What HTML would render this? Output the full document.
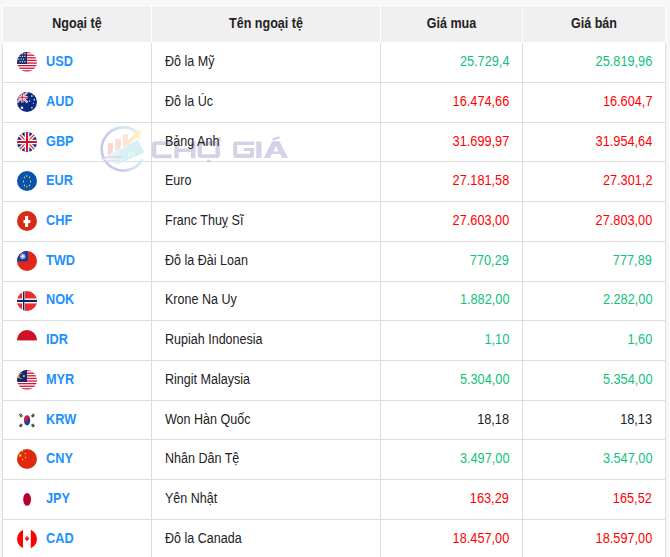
<!DOCTYPE html>
<html><head><meta charset="utf-8"><title>Tỷ giá ngoại tệ</title>
<style>
html,body{margin:0;padding:0}
body{width:670px;height:557px;overflow:hidden;background:#f7f7f7;position:relative;font-family:"Liberation Sans",sans-serif;font-size:13px;color:#222222}
.tb{position:absolute;left:2px;top:5px;width:664px;height:560px;background:#fff}
.hc{position:absolute;top:6px;height:36px;background:#f0f0f0}
.ht{position:absolute;top:16px;line-height:15px;font-size:14px;font-weight:bold;color:#222;text-align:center;white-space:nowrap;transform:scaleX(0.895);transform-origin:center}
.v{position:absolute;top:43px;width:1px;height:520px;background:#dddddd}
.h{position:absolute;left:2px;width:664px;height:1px;background:#dddddd}
.t{position:absolute;line-height:15px;font-size:14px;white-space:nowrap;transform:scaleX(0.895);transform-origin:left center}
.cd{font-weight:bold;color:#1e90ff;transform:scaleX(0.91)}
.r3{text-align:right;right:161px;transform-origin:right center;transform:scaleX(0.91)}
.r4{text-align:right;right:18px;transform-origin:right center;transform:scaleX(0.91)}
.g{color:#12c27a}.r{color:#ff0000}.k{color:#222222}
.f{position:absolute;left:17px;width:20px;height:20px}
.f svg{display:block}
.wm{position:absolute}
</style></head><body>
<svg width="0" height="0" style="position:absolute"><defs><clipPath id="c"><circle cx="10" cy="10" r="10"/></clipPath></defs></svg>
<div class="tb"></div>

<div class="hc" style="left:3px;width:148px"></div>
<div class="ht" style="left:3px;width:148px">Ngoại tệ</div>
<div class="hc" style="left:152px;width:228px"></div>
<div class="ht" style="left:152px;width:228px">Tên ngoại tệ</div>
<div class="hc" style="left:381px;width:141px"></div>
<div class="ht" style="left:381px;width:141px">Giá mua</div>
<div class="hc" style="left:523px;width:142px"></div>
<div class="ht" style="left:523px;width:142px">Giá bán</div>
<div class="v" style="left:2px"></div>
<div class="v" style="left:151px"></div>
<div class="v" style="left:380px"></div>
<div class="v" style="left:522px"></div>
<div class="v" style="left:665px"></div>
<div class="h" style="top:82px"></div>
<div class="h" style="top:122px"></div>
<div class="h" style="top:161px"></div>
<div class="h" style="top:201px"></div>
<div class="h" style="top:241px"></div>
<div class="h" style="top:281px"></div>
<div class="h" style="top:320px"></div>
<div class="h" style="top:360px"></div>
<div class="h" style="top:400px"></div>
<div class="h" style="top:439px"></div>
<div class="h" style="top:479px"></div>
<div class="h" style="top:519px"></div>
<svg class="wm" style="position:absolute;left:95px;top:120px" width="200" height="60" viewBox="95 120 200 60">
<defs>
<linearGradient id="rg" gradientUnits="userSpaceOnUse" x1="101" y1="155" x2="140" y2="140"><stop offset="0" stop-color="#c8c3e8"/><stop offset="0.35" stop-color="#cdcbeb"/><stop offset="0.75" stop-color="#cfe9f3"/><stop offset="1" stop-color="#d4eff5"/></linearGradient>
<linearGradient id="ag" x1="0" y1="1" x2="1" y2="0"><stop offset="0" stop-color="#fbd6cf"/><stop offset="1" stop-color="#ffefc4"/></linearGradient>
</defs>
<linearGradient id="ng" x1="0" y1="0" x2="1" y2="0"><stop offset="0" stop-color="#f4f8fb"/><stop offset="0.5" stop-color="#d9f1f6"/><stop offset="1" stop-color="#d3eef4"/></linearGradient>
<linearGradient id="rg2" x1="0" y1="0" x2="1" y2="0"><stop offset="0" stop-color="#c8c3e8"/><stop offset="0.6" stop-color="#d6e4f2"/><stop offset="1" stop-color="#e2f4f8"/></linearGradient>
<path d="M142.37,159.14 A21.6,21.6 0 1 1 136.60,131.98" fill="none" stroke="url(#rg)" stroke-width="2.6"/>
<path d="M107.80,143.10 H112.80 V152.82 L107.80,155.60 Z" fill="#f9d5d5"/><path d="M115.30,138.80 H120.90 V148.32 L115.30,151.43 Z" fill="#fbddd2"/><path d="M123.00,134.20 H128.00 V144.37 L123.00,147.15 Z" fill="#fde4d2"/>
<path d="M126.5,144.2 L137.2,134.2" fill="none" stroke="#fde8c9" stroke-width="3.6"/>
<path d="M132.1,131.3 L141.8,130.2 L139.4,140.2 Z" fill="#ffefc6"/>
<path d="M103,158.9 L137.5,139.8 L144.4,152.6 L118,164.5 Z" fill="url(#ng)"/>
<path d="M100.8,158.2 Q110,156 122,157" fill="none" stroke="#d6d3ee" stroke-width="1.4"/>
<path d="M101.8,162 Q111,160.2 120,161" fill="none" stroke="#dbd8f0" stroke-width="1.2"/>
<circle cx="131.3" cy="154.8" r="2.9" fill="#f0f9f4"/>
<path d="M132.3,153.3 Q130.2,153 130.4,154.6 Q132.4,155 132.2,156.4 Q130.6,156.7 130.2,156" fill="none" stroke="#cde4bc" stroke-width="0.8"/>
<g fill="#d5d2e8">
<path d="M171.7,141.3 H155.3 Q152,141.3 152,144.6 V154.9 Q152,158.2 155.3,158.2 H171.7 V154.5 H156.3 V145 H171.7 Z"/>
<path d="M174.3,141.3 H178.8 V148.5 H191 V141.3 H195.5 V158.2 H191 V152 H178.8 V158.2 H174.3 Z"/>
<path fill-rule="evenodd" d="M201,141.3 H216.6 Q220.1,141.3 220.1,144.8 V154.6 Q220.1,158.1 216.6,158.1 H201 Q197.5,158.1 197.5,154.6 V144.8 Q197.5,141.3 201,141.3 Z M202.1,145.1 V154.2 H215.5 V145.1 Z"/>
<path d="M217.4,141.4 L218.2,137.3 L220.8,137.3 L220.4,141.4 Z"/>
<rect x="206.9" y="159.8" width="4" height="2.6" rx="0.8"/>
<path d="M254.1,141.6 H236.4 Q233.1,141.6 233.1,144.9 V154.7 Q233.1,158 236.4,158 H250.8 Q254.1,158 254.1,154.7 V148 H243.8 V150.9 H250 V153.8 H237.2 V144.9 H254.1 Z"/>
<rect x="256.2" y="141.5" width="5.3" height="16.5"/>
<path fill-rule="evenodd" d="M263.6,158 L272.3,141.3 L279.5,141.3 L288.1,158 L282.1,158 L280.1,154.1 L271.9,154.1 L269.9,158 Z M273.3,151.4 L275.9,146 L278.5,151.4 Z"/>
</g>
<path d="M273.3,139.4 L278.8,137.4" stroke="#c9cbe6" stroke-width="1.9" stroke-linecap="round"/>
</svg>
<div class="f" style="top:52px"><svg width="20" height="20" viewBox="0 0 20 20"><g clip-path="url(#c)"><rect width="20" height="20" fill="#fff"/><rect x="0" y="-0.10" width="20" height="1.31" fill="#cc1338"/><rect x="0" y="2.52" width="20" height="1.31" fill="#cc1338"/><rect x="0" y="5.14" width="20" height="1.31" fill="#cc1338"/><rect x="0" y="7.76" width="20" height="1.31" fill="#cc1338"/><rect x="0" y="10.38" width="20" height="1.31" fill="#cc1338"/><rect x="0" y="13.00" width="20" height="1.31" fill="#cc1338"/><rect x="0" y="15.62" width="20" height="1.31" fill="#cc1338"/><rect x="0" y="18.24" width="20" height="1.31" fill="#cc1338"/><rect width="10" height="12" fill="#1a2f6e"/><rect x="4.95" y="1.15" width="1.1" height="1.1" fill="#fff"/><rect x="7.35" y="1.15" width="1.1" height="1.1" fill="#fff"/><rect x="2.55" y="3.80" width="1.1" height="1.1" fill="#fff"/><rect x="4.95" y="3.80" width="1.1" height="1.1" fill="#fff"/><rect x="7.35" y="3.80" width="1.1" height="1.1" fill="#fff"/><rect x="1.15" y="6.55" width="1.1" height="1.1" fill="#fff"/><rect x="3.60" y="6.55" width="1.1" height="1.1" fill="#fff"/><rect x="6.05" y="6.55" width="1.1" height="1.1" fill="#fff"/><rect x="2.55" y="9.15" width="1.1" height="1.1" fill="#fff"/><rect x="4.95" y="9.15" width="1.1" height="1.1" fill="#fff"/><rect x="7.35" y="9.15" width="1.1" height="1.1" fill="#fff"/></g></svg></div>
<div class="t cd" style="left:46.3px;top:54px">USD</div>
<div class="t" style="left:165px;top:54px">Đô la Mỹ</div>
<div class="t r3 g" style="top:54px">25.729,4</div>
<div class="t r4 g" style="top:54px">25.819,96</div>
<div class="f" style="top:92px"><svg width="20" height="20" viewBox="0 0 20 20"><g clip-path="url(#c)"><rect width="20" height="20" fill="#0d2a80"/><g transform="translate(0,0) scale(0.525,0.525)"><rect width="20" height="20" fill="#0a2a84"/><path d="M0,0 L20,20 M20,0 L0,20" stroke="#fff" stroke-width="4"/><path d="M0,0 L20,20 M20,0 L0,20" stroke="#e8322b" stroke-width="1.4"/><path d="M10,0 V20 M0,10 H20" stroke="#fff" stroke-width="4.6"/><path d="M10,0 V20 M0,10 H20" stroke="#d4102e" stroke-width="2"/></g><circle cx="14.9" cy="4.1" r="0.8" fill="#fff"/><circle cx="17.3" cy="7.8" r="0.8" fill="#fff"/><circle cx="12.5" cy="8.9" r="0.7" fill="#fff"/><circle cx="16.5" cy="11.3" r="0.5" fill="#fff"/><circle cx="14.9" cy="15.7" r="0.8" fill="#fff"/><circle cx="5" cy="15.7" r="1.3" fill="#fff"/></g></svg></div>
<div class="t cd" style="left:46.3px;top:94px">AUD</div>
<div class="t" style="left:165px;top:94px">Đô la Úc</div>
<div class="t r3 r" style="top:94px">16.474,66</div>
<div class="t r4 r" style="top:94px">16.604,7</div>
<div class="f" style="top:132px"><svg width="20" height="20" viewBox="0 0 20 20"><g clip-path="url(#c)"><g transform="translate(0,0) scale(1,1)"><rect width="20" height="20" fill="#0a2a84"/><path d="M0,0 L20,20 M20,0 L0,20" stroke="#fff" stroke-width="4"/><path d="M0,0 L20,20 M20,0 L0,20" stroke="#e8322b" stroke-width="1.4"/><path d="M10,0 V20 M0,10 H20" stroke="#fff" stroke-width="4.6"/><path d="M10,0 V20 M0,10 H20" stroke="#d4102e" stroke-width="2"/></g></g></svg></div>
<div class="t cd" style="left:46.3px;top:134px">GBP</div>
<div class="t" style="left:165px;top:134px">Bảng Anh</div>
<div class="t r3 r" style="top:134px">31.699,97</div>
<div class="t r4 r" style="top:134px">31.954,64</div>
<div class="f" style="top:171px"><svg width="20" height="20" viewBox="0 0 20 20"><g clip-path="url(#c)"><rect width="20" height="20" fill="#0a52b0"/><ellipse cx="9.8" cy="5" rx="0.6" ry="0.9" fill="#ffe01a"/><ellipse cx="7.4" cy="6.3" rx="0.6" ry="0.9" fill="#ffe01a"/><ellipse cx="12.5" cy="6.3" rx="0.6" ry="0.9" fill="#ffe01a"/><ellipse cx="6.5" cy="10.5" rx="0.6" ry="0.9" fill="#ffe01a"/><ellipse cx="13.5" cy="10.5" rx="0.6" ry="0.9" fill="#ffe01a"/><ellipse cx="7.4" cy="14.4" rx="0.6" ry="0.9" fill="#ffe01a"/><ellipse cx="12.5" cy="14.4" rx="0.6" ry="0.9" fill="#ffe01a"/><ellipse cx="9.8" cy="15.6" rx="0.6" ry="0.9" fill="#ffe01a"/></g></svg></div>
<div class="t cd" style="left:46.3px;top:173px">EUR</div>
<div class="t" style="left:165px;top:173px">Euro</div>
<div class="t r3 r" style="top:173px">27.181,58</div>
<div class="t r4 r" style="top:173px">27.301,2</div>
<div class="f" style="top:211px"><svg width="20" height="20" viewBox="0 0 20 20"><g clip-path="url(#c)"><rect width="20" height="20" fill="#d82a17"/><rect x="8.1" y="5" width="3" height="11" fill="#fff"/><rect x="6.5" y="9.1" width="6.8" height="3" fill="#fff"/></g></svg></div>
<div class="t cd" style="left:46.3px;top:213px">CHF</div>
<div class="t" style="left:165px;top:213px">Franc Thuỵ Sĩ</div>
<div class="t r3 r" style="top:213px">27.603,00</div>
<div class="t r4 r" style="top:213px">27.803,00</div>
<div class="f" style="top:251px"><svg width="20" height="20" viewBox="0 0 20 20"><g clip-path="url(#c)"><rect width="20" height="20" fill="#e3261a"/><rect width="11" height="10.4" fill="#1b3a9c"/><polygon points="5.80,2.10 6.32,3.37 7.40,2.53 7.21,3.89 8.57,3.70 7.73,4.78 9.00,5.30 7.73,5.82 8.57,6.90 7.21,6.71 7.40,8.07 6.32,7.23 5.80,8.50 5.28,7.23 4.20,8.07 4.39,6.71 3.03,6.90 3.87,5.82 2.60,5.30 3.87,4.78 3.03,3.70 4.39,3.89 4.20,2.53 5.28,3.37" fill="#fff"/><circle cx="5.8" cy="5.3" r="1.75" fill="#1b3a9c"/><circle cx="5.8" cy="5.3" r="1.4" fill="#fff"/></g></svg></div>
<div class="t cd" style="left:46.3px;top:253px">TWD</div>
<div class="t" style="left:165px;top:253px">Đô la Đài Loan</div>
<div class="t r3 g" style="top:253px">770,29</div>
<div class="t r4 g" style="top:253px">777,89</div>
<div class="f" style="top:291px"><svg width="20" height="20" viewBox="0 0 20 20"><g clip-path="url(#c)"><rect width="20" height="20" fill="#ef2b2d"/><rect x="5" width="2.9" height="20" fill="#fff"/><rect y="7.5" width="20" height="4.9" fill="#fff"/><rect x="6" width="1.4" height="20" fill="#002868"/><rect y="8.9" width="20" height="2.1" fill="#002868"/></g></svg></div>
<div class="t cd" style="left:46.3px;top:292px">NOK</div>
<div class="t" style="left:165px;top:292px">Krone Na Uy</div>
<div class="t r3 g" style="top:292px">1.882,00</div>
<div class="t r4 g" style="top:292px">2.282,00</div>
<div class="f" style="top:330px"><svg width="20" height="20" viewBox="0 0 20 20"><g clip-path="url(#c)"><rect width="20" height="20" fill="#fff"/><rect width="20" height="10.4" fill="#ce1126"/></g></svg></div>
<div class="t cd" style="left:46.3px;top:332px">IDR</div>
<div class="t" style="left:165px;top:332px">Rupiah Indonesia</div>
<div class="t r3 g" style="top:332px">1,10</div>
<div class="t r4 g" style="top:332px">1,60</div>
<div class="f" style="top:370px"><svg width="20" height="20" viewBox="0 0 20 20"><g clip-path="url(#c)"><rect width="20" height="20" fill="#fff"/><rect x="0" y="-0.10" width="20" height="1.31" fill="#cc1338"/><rect x="0" y="2.52" width="20" height="1.31" fill="#cc1338"/><rect x="0" y="5.14" width="20" height="1.31" fill="#cc1338"/><rect x="0" y="7.76" width="20" height="1.31" fill="#cc1338"/><rect x="0" y="10.38" width="20" height="1.31" fill="#cc1338"/><rect x="0" y="13.00" width="20" height="1.31" fill="#cc1338"/><rect x="0" y="15.62" width="20" height="1.31" fill="#cc1338"/><rect x="0" y="18.24" width="20" height="1.31" fill="#cc1338"/><rect width="10" height="12" fill="#0f2a78"/><circle cx="3.6" cy="6" r="2.8" fill="#f2c318"/><circle cx="4.5" cy="6" r="2.3" fill="#0f2a78"/><circle cx="6.9" cy="6" r="1.1" fill="#f2c318"/></g></svg></div>
<div class="t cd" style="left:46.3px;top:372px">MYR</div>
<div class="t" style="left:165px;top:372px">Ringit Malaysia</div>
<div class="t r3 g" style="top:372px">5.304,00</div>
<div class="t r4 g" style="top:372px">5.354,00</div>
<div class="f" style="top:410px"><svg width="20" height="20" viewBox="0 0 20 20"><g clip-path="url(#c)"><rect width="20" height="20" fill="#fff"/><ellipse cx="10.1" cy="10.4" rx="3.1" ry="5" fill="#1a3f9a"/><path d="M7,10.4 A3.1,5 0 0 1 13.2,10.4 A1.55,1.6 0 0 0 10.1,10.4 A1.55,1.6 0 0 1 7,10.4Z" fill="#cd1f3a"/><g transform="translate(3.9,5.3) rotate(-35)"><rect x="-1.4" y="-1.6" width="2.8" height="0.7" fill="#000"/><rect x="-1.4" y="-0.4" width="2.8" height="0.8" fill="#000"/><rect x="-1.4" y="0.8" width="2.8" height="0.8" fill="#000"/></g><g transform="translate(16,5.5) rotate(35)"><rect x="-1.4" y="-1.6" width="2.8" height="0.7" fill="#000"/><rect x="-1.4" y="-0.4" width="2.8" height="0.8" fill="#000"/><rect x="-1.4" y="0.8" width="2.8" height="0.8" fill="#000"/></g><g transform="translate(3.9,15.5) rotate(35)"><rect x="-1.4" y="-1.6" width="2.8" height="0.7" fill="#000"/><rect x="-1.4" y="-0.4" width="2.8" height="0.8" fill="#000"/><rect x="-1.4" y="0.8" width="2.8" height="0.8" fill="#000"/></g><g transform="translate(16,15.5) rotate(-35)"><rect x="-1.4" y="-1.6" width="2.8" height="0.7" fill="#000"/><rect x="-1.4" y="-0.4" width="2.8" height="0.8" fill="#000"/><rect x="-1.4" y="0.8" width="2.8" height="0.8" fill="#000"/></g></g></svg></div>
<div class="t cd" style="left:46.3px;top:412px">KRW</div>
<div class="t" style="left:165px;top:412px">Won Hàn Quốc</div>
<div class="t r3 k" style="top:412px">18,18</div>
<div class="t r4 k" style="top:412px">18,13</div>
<div class="f" style="top:449px"><svg width="20" height="20" viewBox="0 0 20 20"><g clip-path="url(#c)"><rect width="20" height="20" fill="#de2910"/><polygon points="3.30,4.50 3.77,5.75 5.11,5.81 4.06,6.65 4.42,7.94 3.30,7.20 2.18,7.94 2.54,6.65 1.49,5.81 2.83,5.75" fill="#ffde00"/><circle cx="5.5" cy="2.3" r="0.75" fill="#ffde00"/><circle cx="8.5" cy="4.5" r="0.75" fill="#ffde00"/><circle cx="8.5" cy="8.4" r="0.75" fill="#ffde00"/><circle cx="5.5" cy="10.4" r="0.75" fill="#ffde00"/></g></svg></div>
<div class="t cd" style="left:46.3px;top:451px">CNY</div>
<div class="t" style="left:165px;top:451px">Nhân Dân Tệ</div>
<div class="t r3 g" style="top:451px">3.497,00</div>
<div class="t r4 g" style="top:451px">3.547,00</div>
<div class="f" style="top:489px"><svg width="20" height="20" viewBox="0 0 20 20"><g clip-path="url(#c)"><rect width="20" height="20" fill="#fff"/><ellipse cx="10.1" cy="10.4" rx="3.9" ry="6.4" fill="#bc002d"/></g></svg></div>
<div class="t cd" style="left:46.3px;top:491px">JPY</div>
<div class="t" style="left:165px;top:491px">Yên Nhật</div>
<div class="t r3 r" style="top:491px">163,29</div>
<div class="t r4 r" style="top:491px">165,52</div>
<div class="f" style="top:529px"><svg width="20" height="20" viewBox="0 0 20 20"><g clip-path="url(#c)"><rect width="20" height="20" fill="#fff"/><rect width="6" height="20" fill="#ff0000"/><rect x="13.8" width="6.2" height="20" fill="#ff0000"/><path d="M9.2,6.9 H10.8 V8.6 H9.2Z" fill="#ff0000" opacity="0.75"/><path d="M8.1,8.6 H11.9 V10.5 H10.8 V11.8 H9.2 V10.5 H8.1Z" fill="#ff0000"/><rect x="9.6" y="13" width="0.8" height="0.6" fill="#ff0000" opacity="0.15"/></g></svg></div>
<div class="t cd" style="left:46.3px;top:531px">CAD</div>
<div class="t" style="left:165px;top:531px">Đô la Canada</div>
<div class="t r3 r" style="top:531px">18.457,00</div>
<div class="t r4 r" style="top:531px">18.597,00</div>
</body></html>
